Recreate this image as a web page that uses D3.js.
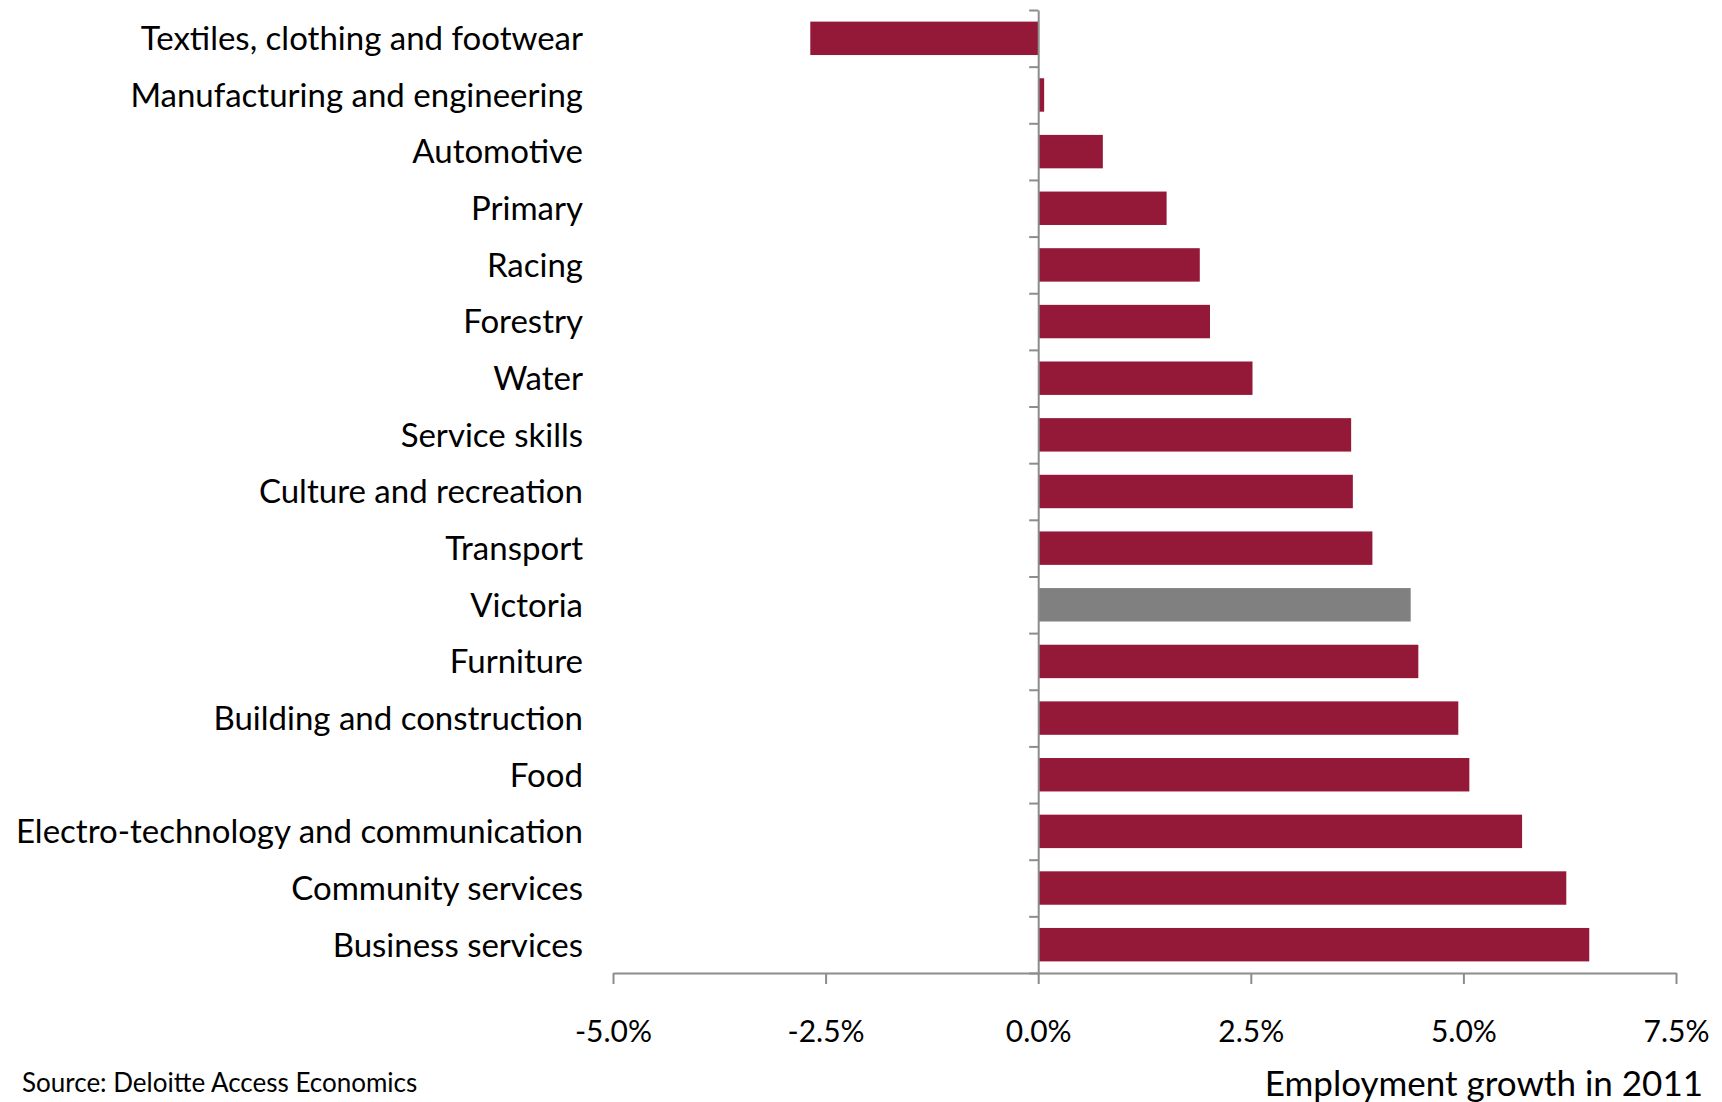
<!DOCTYPE html>
<html>
<head>
<meta charset="utf-8">
<script src="https://cdn.jsdelivr.net/npm/d3@7"></script>
<style>
  body { margin: 0; background: #fff; }
  text { font-family: Lato, "Open Sans", sans-serif; fill: #000; }
</style>
</head>
<body>
<svg id="chart" width="1722" height="1102"></svg>
<script>
// Data
var categories = [
  "Textiles, clothing and footwear",
  "Manufacturing and engineering",
  "Automotive",
  "Primary",
  "Racing",
  "Forestry",
  "Water",
  "Service skills",
  "Culture and recreation",
  "Transport",
  "Victoria",
  "Furniture",
  "Building and construction",
  "Food",
  "Electro-technology and communication",
  "Community services",
  "Business services"
];
var growth = [-2.68, 0.07, 0.76, 1.51, 1.90, 2.02, 2.52, 3.68, 3.70, 3.93,
              4.38, 4.47, 4.94, 5.07, 5.69, 6.21, 6.48];
var xTicks = [-5, -2.5, 0, 2.5, 5, 7.5];
var highlight = "Victoria";

var barColor = "#941837";
var highlightColor = "#808080";
var axisColor = "#8c8c8c";

// Layout
var plot = { left: 613, right: 1676, top: 10, bottom: 973 };
var svg = d3.select("#chart");

var x = d3.scaleLinear()
    .domain([-5, 7.5])
    .range([plot.left, plot.right]);

var y = d3.scaleBand()
    .domain(categories)
    .range([plot.top, plot.bottom])
    .paddingInner(0.41)
    .paddingOuter(0.205);

var rows = categories.map(function(c, i) {
  return { name: c, value: growth[i] };
});

// Bars
svg.append("g").selectAll("rect")
    .data(rows)
  .enter().append("rect")
    .attr("x", function(d) { return x(Math.min(0, d.value)); })
    .attr("y", function(d) { return y(d.name); })
    .attr("width", function(d) { return Math.abs(x(d.value) - x(0)); })
    .attr("height", y.bandwidth())
    .style("fill", function(d) { return d.name === highlight ? highlightColor : barColor; });

// Category axis sits at zero, ticks between the bars
var boundary = d3.scaleLinear()
    .domain([0, categories.length])
    .range([plot.top, plot.bottom]);

var yAxis = svg.append("g")
    .attr("transform", "translate(" + x(0) + ",0)")
    .call(d3.axisLeft(boundary)
      .tickValues(d3.range(categories.length + 1))
      .tickFormat("")
      .tickSize(9)
      .tickSizeOuter(0));

// Category labels sit to the left of the plot area
svg.append("g").selectAll("text")
    .data(categories)
  .enter().append("text")
    .attr("x", 583)
    .attr("y", function(d) { return y(d) + y.bandwidth() / 2; })
    .attr("dy", "0.36em")
    .attr("text-anchor", "end")
    .style("font-size", "33px")
    .text(function(d) { return d; });

// Value axis
var xAxis = svg.append("g")
    .attr("transform", "translate(0," + plot.bottom + ")")
    .call(d3.axisBottom(x)
      .tickValues(xTicks)
      .tickFormat(function(d) { return d.toFixed(1) + "%"; })
      .tickSize(11)
      .tickSizeOuter(0)
      .tickPadding(37));

xAxis.selectAll("text")
    .style("font-size", "30px")
    .style("font-family", "Lato, 'Open Sans', sans-serif")
    .style("fill", "#000");

[xAxis, yAxis].forEach(function(a) {
  a.select(".domain").style("stroke", axisColor).style("stroke-width", 2);
  a.selectAll(".tick line").style("stroke", axisColor).style("stroke-width", 2);
});

// Axis title and source
svg.append("text")
    .attr("x", 1703)
    .attr("y", 1096)
    .attr("text-anchor", "end")
    .style("font-size", "35px")
    .text("Employment growth in 2011");

svg.append("text")
    .attr("x", 22)
    .attr("y", 1092)
    .style("font-size", "26px")
    .text("Source: Deloitte Access Economics");
</script>
</body>
</html>
